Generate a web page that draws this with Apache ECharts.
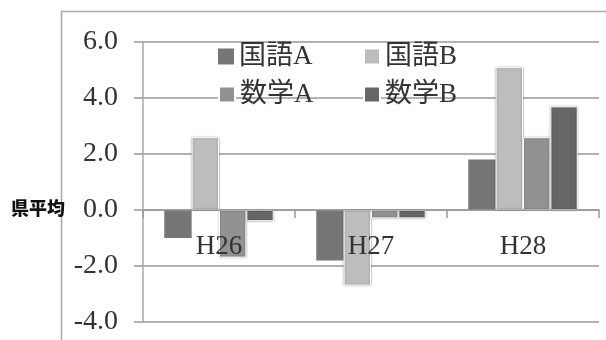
<!DOCTYPE html>
<html>
<head>
<meta charset="utf-8">
<script src="https://cdn.jsdelivr.net/npm/echarts@6/dist/echarts.min.js"></script>
<style>
  html, body { margin: 0; padding: 0; background: #fff; }
  #chart { width: 606px; height: 340px; }
</style>
</head>
<body>
<div id="chart"></div>
<script>
// Years on the category axis
const years = ['H26', 'H27', 'H28'];
// Differences from the prefectural average, by subject
const kokugoA = [-1.0, -1.8, 1.8];
const kokugoB = [2.6, -2.7, 5.1];
const sugakuA = [-1.7, -0.3, 2.6];
const sugakuB = [-0.4, -0.3, 3.7];
const seriesNames = ['国語A', '国語B', '数学A', '数学B'];
const seriesValues = [kokugoA, kokugoB, sugakuA, sugakuB];
const seriesColors = ['#767676', '#bdbdbd', '#929292', '#666666'];
// Value axis range
const yMin = -4, yMax = 6, yStep = 2;

const serifFont = "'Liberation Serif', 'DejaVu Serif', 'Noto Sans CJK JP', serif";
const gridLineColor = '#999999';

// Plot box
const gridTop = 42, gridBottom = 18, chartHeight = 340;
const plotHeight = chartHeight - gridTop - gridBottom;
// Shift the category axis up from the plot bottom to the zero line
const zeroShift = -plotHeight * (0 - yMin) / (yMax - yMin);

const chart = echarts.init(document.getElementById('chart'), null, { renderer: 'canvas' });

const series = seriesValues.map((vals, i) => {
  const haloed = i > 0;
  return {
    name: seriesNames[i],
    type: 'bar',
    data: vals,
    barGap: '0%',
    barCategoryGap: '28%',
    itemStyle: haloed ? {
      color: seriesColors[i],
      borderColor: '#ffffff',
      borderWidth: 1,
      shadowColor: 'rgba(0,0,0,0.35)',
      shadowBlur: 2
    } : { color: seriesColors[i] }
  };
});

// Legend laid out as a 2 x 2 block, one entry per component
const legendSlots = [[213, 38], [358, 38], [213, 76], [358, 76]];
const legends = seriesNames.map((name, i) => ({
  data: [name],
  left: legendSlots[i][0], top: legendSlots[i][1],
  icon: 'rect', itemWidth: 16, itemHeight: 16,
  textStyle: { fontFamily: serifFont, fontSize: 27, color: '#333' }
}));

chart.setOption({
  animation: false,
  backgroundColor: '#ffffff',
  grid: {
    left: 143, right: 7, top: gridTop, bottom: gridBottom,
    containLabel: false, outerBoundsMode: 'none'
  },
  legend: legends,
  xAxis: {
    type: 'category',
    data: years,
    position: 'bottom',
    offset: zeroShift,
    z: 5,
    axisLine: { onZero: false, lineStyle: { color: gridLineColor, width: 1.5 } },
    axisTick: { show: true, alignWithLabel: false, length: 8, lineStyle: { color: gridLineColor, width: 1.5 } },
    axisLabel: { fontFamily: serifFont, fontSize: 27, color: '#333', margin: 23 },
    splitLine: { show: false }
  },
  yAxis: {
    type: 'value',
    min: yMin, max: yMax, interval: yStep,
    axisLine: { show: true, lineStyle: { color: '#aaaaaa', width: 1.5 } },
    axisTick: { show: true, inside: false, length: 9, lineStyle: { color: gridLineColor, width: 1.5 } },
    axisLabel: {
      fontFamily: serifFont, fontSize: 28, color: '#333', margin: 25,
      formatter: v => v.toFixed(1)
    },
    splitLine: { show: true, lineStyle: { color: gridLineColor, width: 1.5 } }
  },
  graphic: [
    {
      type: 'rect',
      shape: { x: 61.5, y: 11.5, width: 700, height: 500 },
      style: { fill: null, stroke: '#a8a8a8', lineWidth: 1.5 },
      silent: true, z: -1
    },
    {
      type: 'text',
      left: 11, top: 199,
      style: {
        text: '県平均',
        fontFamily: "'Noto Sans CJK JP', sans-serif",
        fontWeight: 900,
        fontSize: 18,
        fill: '#111'
      },
      z: 10
    }
  ],
  series: series
});
</script>
</body>
</html>
